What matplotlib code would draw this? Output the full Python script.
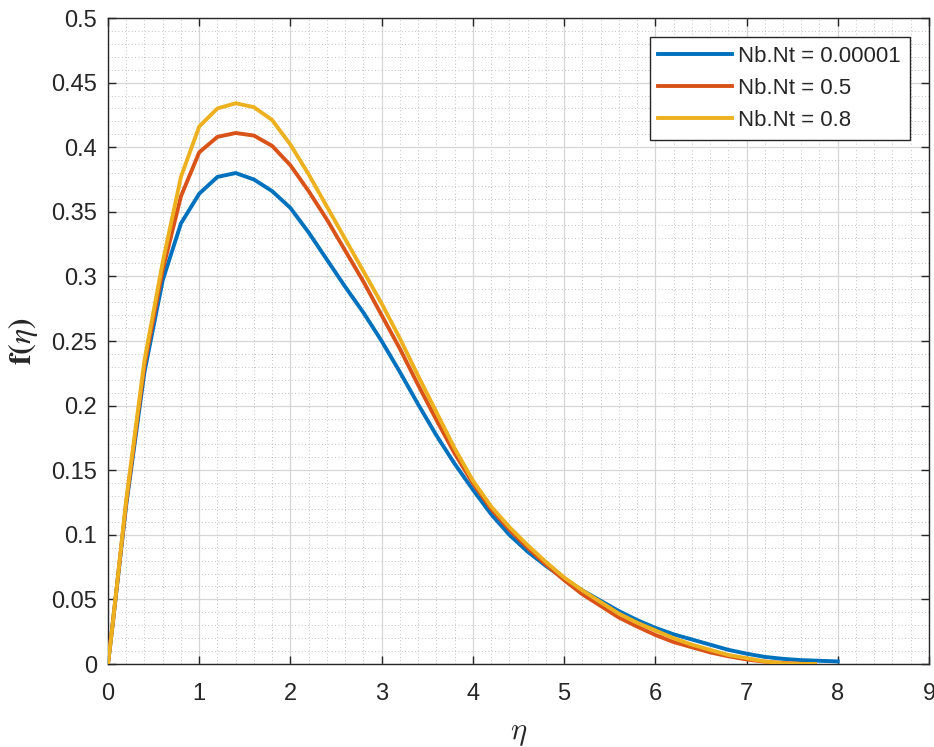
import matplotlib
matplotlib.use("Agg")
import matplotlib.pyplot as plt
from matplotlib.ticker import MultipleLocator, FuncFormatter

eta_blue = [0.0, 0.05, 0.2, 0.4, 0.6, 0.8, 1.0, 1.2, 1.4, 1.6, 1.8, 2.0, 2.2, 2.4, 2.6, 2.8,
            3.0, 3.2, 3.4, 3.6, 3.8, 4.0, 4.2, 4.4, 4.6, 4.8, 5.0, 5.2, 5.4, 5.6, 5.8,
            6.0, 6.2, 6.4, 6.6, 6.8, 7.0, 7.2, 7.4, 7.6, 7.8, 8.0]
f_blue = [0.0, 0.03, 0.123, 0.226, 0.297, 0.341, 0.364, 0.377, 0.380, 0.375, 0.366, 0.353,
          0.334, 0.313, 0.292, 0.272, 0.250, 0.226, 0.201, 0.177, 0.155, 0.135, 0.116, 0.100,
          0.087, 0.076, 0.066, 0.057, 0.049, 0.041, 0.034, 0.028, 0.023, 0.019, 0.015, 0.011,
          0.008, 0.0055, 0.004, 0.003, 0.0025, 0.002]

eta_orange = [0.0, 0.05, 0.2, 0.4, 0.6, 0.8, 1.0, 1.2, 1.4, 1.6, 1.8, 2.0, 2.2, 2.4, 2.6, 2.8,
              3.0, 3.2, 3.4, 3.6, 3.8, 4.0, 4.2, 4.4, 4.6, 4.8, 5.0, 5.2, 5.4, 5.6, 5.8,
              6.0, 6.2, 6.4, 6.6, 6.8, 7.0, 7.2, 7.4, 7.6, 7.75]
f_orange = [0.0, 0.03, 0.125, 0.231, 0.305, 0.362, 0.396, 0.408, 0.411, 0.409, 0.401, 0.386,
            0.366, 0.344, 0.320, 0.296, 0.270, 0.244, 0.216, 0.189, 0.163, 0.140, 0.120, 0.104,
            0.090, 0.077, 0.065, 0.054, 0.045, 0.036, 0.029, 0.0225, 0.017, 0.013, 0.009,
            0.006, 0.0035, 0.0018, 0.0008, 0.0002, 0.0]

eta_yellow = [0.0, 0.05, 0.2, 0.4, 0.6, 0.8, 1.0, 1.2, 1.4, 1.6, 1.8, 2.0, 2.2, 2.4, 2.6, 2.8,
              3.0, 3.2, 3.4, 3.6, 3.8, 4.0, 4.2, 4.4, 4.6, 4.8, 5.0, 5.2, 5.4, 5.6, 5.8,
              6.0, 6.2, 6.4, 6.6, 6.8, 7.0, 7.2, 7.4, 7.6, 7.75]
f_yellow = [0.0, 0.03, 0.127, 0.235, 0.311, 0.377, 0.416, 0.430, 0.434, 0.431, 0.421, 0.402,
            0.379, 0.354, 0.329, 0.304, 0.279, 0.252, 0.223, 0.195, 0.167, 0.142, 0.122, 0.106,
            0.092, 0.079, 0.067, 0.057, 0.048, 0.039, 0.032, 0.026, 0.020, 0.015, 0.011,
            0.007, 0.0045, 0.002, 0.0005, 0.0, 0.0]

labels = ["Nb.Nt = 0.00001", "Nb.Nt = 0.5", "Nb.Nt = 0.8"]
colors = ["#0072BD", "#D95319", "#EDB120"]

x_ticks = [0, 1, 2, 3, 4, 5, 6, 7, 8, 9]
y_ticks = [0, 0.05, 0.1, 0.15, 0.2, 0.25, 0.3, 0.35, 0.4, 0.45, 0.5]

plt.rcParams['font.family'] = ['Liberation Sans', 'DejaVu Sans']
plt.rcParams['mathtext.fontset'] = 'cm'

fig = plt.figure(figsize=(9.34, 7.47), dpi=100)
ax = fig.add_axes([0.1156, 0.1111, 0.8790, 0.8648])

series = [(eta_blue, f_blue), (eta_orange, f_orange), (eta_yellow, f_yellow)]
for (x, y), c, lab in zip(series, colors, labels):
    ax.plot(x, y, color=c, lw=2.8, label=lab, solid_joinstyle='round', zorder=3)

ax.set_xlim(0, 9)
ax.set_ylim(0, 0.5)
ax.set_xticks(x_ticks)
ax.set_yticks(y_ticks)
ax.yaxis.set_major_formatter(FuncFormatter(lambda v, p: ('%g' % round(v, 3))))
ax.xaxis.set_minor_locator(MultipleLocator(0.2))
ax.yaxis.set_minor_locator(MultipleLocator(0.01))

ax.grid(True, which='major', color='#d6d6d6', lw=0.9, zorder=0)
ax.grid(True, which='minor', color='#b0b0b0', lw=0.6, linestyle=(0, (1, 3)), zorder=0)
ax.set_axisbelow(True)

axis_col = '#262626'
for s in ax.spines.values():
    s.set_color(axis_col)
    s.set_linewidth(1.0)
ax.tick_params(which='major', direction='in', length=6, width=1.0, color=axis_col,
               top=True, right=True, labelsize=17, labelcolor=axis_col)
ax.tick_params(which='minor', length=0)
ax.tick_params(axis='x', pad=14)
ax.tick_params(axis='y', pad=8)

ax.set_xlabel(r'$\eta$', fontsize=22, labelpad=9, color=axis_col)
ax.set_ylabel(r'$\mathbf{f}\mathbf{(}\mathit{\eta}\mathbf{)}$', fontsize=23, labelpad=8,
              color=axis_col, math_fontfamily='stix')

leg = ax.legend(loc='upper right', fontsize=16, handlelength=3.3, handletextpad=0.3,
                labelspacing=0.5, borderpad=0.4, borderaxespad=0.85, fancybox=False,
                framealpha=1, edgecolor='#262626')
leg.get_frame().set_linewidth(1.0)
for t in leg.get_texts():
    t.set_color(axis_col)

fig.savefig('out.png', dpi=100)
